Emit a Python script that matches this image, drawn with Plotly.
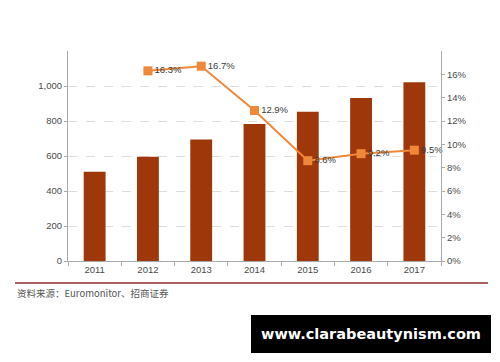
import plotly.graph_objects as go

years = ["2011", "2012", "2013", "2014", "2015", "2016", "2017"]
market_size = [510, 596, 695, 783, 853, 931, 1021]
growth_years = ["2012", "2013", "2014", "2015", "2016", "2017"]
growth_pct = [16.3, 16.7, 12.9, 8.6, 9.2, 9.5]
growth_labels = ["16.3%", "16.7%", "12.9%", "8.6%", "9.2%", "9.5%"]
left_ticks = [0, 200, 400, 600, 800, 1000]
left_tick_text = ["0", "200", "400", "600", "800", "1,000"]
right_ticks = [0, 2, 4, 6, 8, 10, 12, 14, 16]
right_tick_text = ["0%", "2%", "4%", "6%", "8%", "10%", "12%", "14%", "16%"]
source_text = "资料来源：Euromonitor、招商证券"
watermark = "www.clarabeautynism.com"

fig = go.Figure()
fig.add_trace(go.Bar(x=years, y=market_size, marker=dict(color="#9E380A", line=dict(width=0)),
                     yaxis="y", showlegend=False))
fig.add_trace(go.Scatter(x=growth_years, y=growth_pct, yaxis="y2", mode="lines+markers+text",
                         line=dict(color="#F0883A", width=2),
                         marker=dict(symbol="square", size=9, color="#F0883A"),
                         text=growth_labels, textposition="middle right",
                         textfont=dict(size=9.5, color="#3a3a3a", family="Arial"),
                         showlegend=False, cliponaxis=False))

# page body has an 8px default margin, so the figure is 8px smaller and shifted
fig.update_layout(
    width=492, height=354,
    margin=dict(l=60, r=59, t=43, b=101, autoexpand=False),
    paper_bgcolor="white", plot_bgcolor="white",
    bargap=0.59,
    font=dict(family="Arial", size=9, color="#555"),
    xaxis=dict(type="category", showline=True, linecolor="#aaa", ticks="outside",
               tickson="boundaries", tickcolor="#aaa", ticklen=4, automargin=False,
               tickfont=dict(size=9.5, color="#4a4a4a"), showgrid=False),
    yaxis=dict(range=[0, 1200], tickvals=left_ticks, ticktext=left_tick_text, automargin=False,
               showline=True, linecolor="#aaa", ticks="outside", tickcolor="#aaa", ticklen=3,
               showgrid=True, gridcolor="#ddd", griddash="dash", zeroline=False,
               tickfont=dict(size=9.5, color="#4a4a4a")),
    yaxis2=dict(range=[0, 18], overlaying="y", side="right", tickvals=right_ticks, automargin=False,
                ticktext=right_tick_text, showline=True, linecolor="#aaa", ticks="outside",
                tickcolor="#aaa", ticklen=3, showgrid=False, zeroline=False,
                tickfont=dict(size=9.5, color="#4a4a4a")),
)

fig.add_shape(type="line", xref="paper", yref="paper", x0=-0.142, x1=1.126, y0=-0.105, y1=-0.105,
              line=dict(color="#8B2E2E", width=1.5))
fig.add_annotation(text=source_text, xref="paper", yref="paper", x=-0.142, y=-0.153,
                   xanchor="left", yanchor="middle", showarrow=False,
                   font=dict(size=9.5, color="#555", family="Noto Sans CJK SC"))
fig.add_shape(type="rect", xref="paper", yref="paper", x0=0.4906, x1=1.134, y0=-0.438, y1=-0.257,
              fillcolor="black", line=dict(width=0))
fig.add_annotation(text="<b>" + watermark + "</b>", xref="paper", yref="paper", x=0.8123, y=-0.3476,
                   xanchor="center", yanchor="middle", showarrow=False,
                   font=dict(size=14.5, color="white", family="DejaVu Sans"))

fig.write_html("out.html")
